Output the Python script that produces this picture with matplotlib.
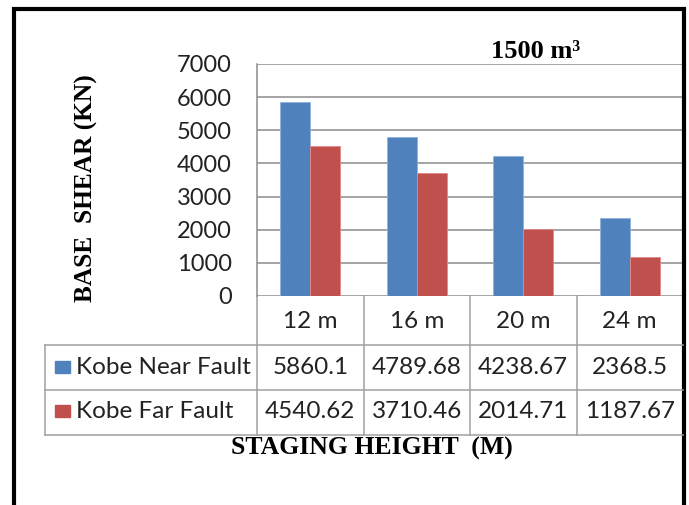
import matplotlib.pyplot as plt
import numpy as np
from matplotlib.patches import Rectangle

heights = ["12 m", "16 m", "20 m", "24 m"]
near_fault = [5860.1, 4789.68, 4238.67, 2368.5]
far_fault = [4540.62, 3710.46, 2014.71, 1187.67]
series_names = ["Kobe Near Fault", "Kobe Far Fault"]
yticks = [0, 1000, 2000, 3000, 4000, 5000, 6000, 7000]

blue = "#4F81BD"
red = "#C0504D"
grid_col = "#8c8c8c"
cell_col = "#a0a0a0"
txt_col = "#222222"

W, H = 689, 505
fig = plt.figure(figsize=(W / 100, H / 100), dpi=100)

# plot area in pixels
L, R, T, B = 257, 683, 64, 296
ax = fig.add_axes([L / W, (H - B) / H, (R - L) / W, (B - T) / H])

x = np.arange(len(heights))
bw = 0.28
ax.bar(x - bw / 2, near_fault, bw, color=blue, edgecolor="#8fb1dd", linewidth=0.6, zorder=3)
ax.bar(x + bw / 2, far_fault, bw, color=red, edgecolor="#e08a88", linewidth=0.6, zorder=3)

ax.set_xlim(-0.5, len(heights) - 0.5)
ax.set_ylim(0, 7000)
ax.set_yticks(yticks)
ax.set_yticklabels([str(v) for v in yticks], fontsize=17, family="Lato", color=txt_col)
ax.set_xticks([])
ax.tick_params(axis="y", length=0, pad=18)
ax.yaxis.grid(True, color=grid_col, linewidth=1.1, zorder=0)
for s in ["top", "right", "bottom"]:
    ax.spines[s].set_visible(False)
ax.spines["left"].set_color(grid_col)
ax.spines["left"].set_linewidth(1.1)

# data table under the axis
tr = ax.get_xaxis_transform()
def yf(py):
    return (B - py) / (B - T)

row_lines = [345, 390, 435]
table_left = 45
for py in row_lines:
    fig.add_artist(plt.Line2D([table_left / W, R / W], [(H - py) / H] * 2,
                              color=cell_col, linewidth=1.1))
fig.add_artist(plt.Line2D([table_left / W] * 2, [(H - 345) / H, (H - 435) / H],
                          color=cell_col, linewidth=1.1))
for i in range(len(heights) + 1):
    ax.plot([i - 0.5, i - 0.5], [yf(B), yf(435)], transform=tr, color=cell_col,
            linewidth=1.1, clip_on=False)

cell_font = dict(fontsize=17.5, family="Lato", color=txt_col)
for i, lab in enumerate(heights):
    ax.text(i, yf(321), lab, transform=tr, ha="center", va="center", **cell_font)
    ax.text(i, yf(367), f"{near_fault[i]:g}", transform=tr, ha="center", va="center",
            **cell_font)
    ax.text(i, yf(411), f"{far_fault[i]:g}", transform=tr, ha="center", va="center",
            **cell_font)

for py, name, col in [(367, series_names[0], blue), (411, series_names[1], red)]:
    fig.add_artist(Rectangle((55 / W, (H - py - 6) / H), 15 / W, 12 / H, color=col,
                             transform=fig.transFigure))
    fig.text(76 / W, (H - py) / H, name, ha="left", va="center", **cell_font)

# titles
serif = dict(family="Liberation Serif", weight="bold", color="black")
fig.text(536 / W, (H - 51) / H, "1500 m³", ha="center", va="center", fontsize=19, **serif)
fig.text(372 / W, (H - 448) / H, "STAGING HEIGHT  (M)", ha="center", va="center",
         fontsize=18.5, **serif)
fig.text(86 / W, (H - 188) / H, "BASE  SHEAR (KN)", ha="center", va="center",
         rotation=90, fontsize=18.3, **serif)

# outer frame
fig.add_artist(Rectangle((13.5 / W, -0.1), (683.5 - 13.5) / W, (H - 9) / H + 0.1,
                         fill=False, edgecolor="black", linewidth=3,
                         transform=fig.transFigure))

fig.savefig("out.png", dpi=100)
